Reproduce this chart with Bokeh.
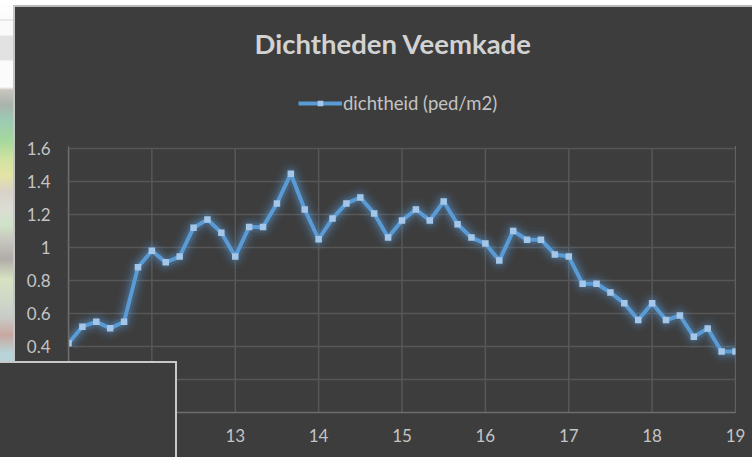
from bokeh.plotting import figure
from bokeh.models import (ColumnDataSource, FixedTicker, Legend, LegendItem, Title, Div, Column)
from bokeh.embed import file_html
from bokeh.resources import INLINE

# Data: hour of day (one reading per ten minutes, 11:00 to 19:00)
minutes = list(range(0, 490, 10))
dichtheid = [0.42, 0.52, 0.55, 0.51, 0.55, 0.88,
             0.98, 0.91, 0.945, 1.12, 1.17, 1.09,
             0.945, 1.125, 1.125, 1.267, 1.447, 1.23,
             1.05, 1.176, 1.267, 1.303, 1.206, 1.06,
             1.164, 1.23, 1.164, 1.279, 1.141, 1.06,
             1.024, 0.921, 1.10, 1.047, 1.047, 0.958,
             0.945, 0.78, 0.78, 0.727, 0.662, 0.56,
             0.662, 0.56, 0.588, 0.459, 0.509, 0.37, 0.37]
x_ticks = [11, 12, 13, 14, 15, 16, 17, 18, 19]
y_ticks = [0, 0.2, 0.4, 0.6, 0.8, 1.0, 1.2, 1.4, 1.6]
y_labels = {0: "", 0.2: "", 0.4: "0.4", 0.6: "0.6", 0.8: "0.8", 1.0: "1", 1.2: "1.2", 1.4: "1.4", 1.6: "1.6"}
x_labels = {11: "", 12: "", 13: "13", 14: "14", 15: "15", 16: "16", 17: "17", 18: "18", 19: "19"}
title_text = "Dichtheden Veemkade"
series_name = "dichtheid (ped/m2)"

DARK = "#3d3d3d"
BLUE = "#5b9bd5"
TEXT = "#c4c4c4"
GRID = "#575757"
FONT = "Lato"

hours = [11 + m / 60 for m in minutes]
src = ColumnDataSource(dict(x=hours, y=dichtheid))

# the frame reaches up past the 1.6 line so that the legend can sit inside it
PLOT_TOP = 64
AXIS_TOP_PX = 148
px_per_unit = (412 - AXIS_TOP_PX) / 1.6
p = figure(width=752, height=457, x_range=(11, 19), y_range=(0, 1.6 + (AXIS_TOP_PX - PLOT_TOP) / px_per_unit),
           output_backend="svg", toolbar_location=None,
           min_border_left=68, min_border_right=17, min_border_top=PLOT_TOP, min_border_bottom=45,
           background_fill_color=DARK, border_fill_color=DARK)
p.outline_line_color = None
p.outline_line_alpha = 0
p.outline_line_width = 0
p.styles = {"position": "absolute", "left": "0px", "top": "0px"}

p.title = Title(text=title_text, text_font=FONT, text_font_size="27.5px", text_font_style="bold",
                text_color="#d2d2d2", align="left", offset=186, standoff=9)

for ax, ticks, labels in ((p.xaxis[0], x_ticks, x_labels), (p.yaxis[0], y_ticks, y_labels)):
    ax.ticker = FixedTicker(ticks=ticks)
    ax.major_label_overrides = labels
    ax.major_label_text_font = FONT
    ax.major_label_text_font_size = "17px"
    ax.major_label_text_color = TEXT
    ax.major_tick_line_color = None
    ax.major_tick_out = 0
    ax.major_tick_in = 0
    ax.minor_tick_line_color = None
    ax.axis_line_color = "#6e6e6e"
    ax.axis_line_width = 1.5
p.yaxis.bounds = (0, 1.6)
p.xaxis.major_label_standoff = 16
p.yaxis.major_label_standoff = 18
p.ygrid.ticker = FixedTicker(ticks=y_ticks)
p.ygrid.grid_line_color = GRID
p.ygrid.grid_line_width = 1.5
p.xgrid.visible = False
# vertical grid lines stop at the top of the value axis
p.segment(x0=x_ticks, y0=[y_ticks[0]] * len(x_ticks), x1=x_ticks, y1=[y_ticks[-1]] * len(x_ticks),
          line_color=GRID, line_width=1.5)

# soft glow under the series
for w, a in ((24, 0.05), (18, 0.08), (13, 0.12), (9, 0.18)):
    p.line("x", "y", source=src, line_color=BLUE, line_width=w, line_alpha=a, line_join="round")
line = p.line("x", "y", source=src, line_color=BLUE, line_width=4, line_join="round")
marks = p.scatter("x", "y", source=src, marker="square", size=6.5, fill_color="#a4c6e8", line_color=None)

legend = Legend(items=[LegendItem(label=series_name, renderers=[line, marks])],
                location=(230, 298), orientation="horizontal",
                background_fill_alpha=0, border_line_color=None,
                glyph_width=44, glyph_height=14, label_standoff=1,
                padding=0, margin=0,
                label_text_font=FONT, label_text_font_size="18.5px", label_text_color=TEXT)
p.add_layout(legend, "center")

# what lies around the chart on the original slide: page strip at the left, covering panel at bottom left
strip_stops = [(0, "#ffffff"), (19, "#fbfbfb"), (20, "#d6d6d6"), (21, "#fafafa"), (35, "#fafafa"), (36, "#e2e2e2"),
               (60, "#e2e2e2"), (61, "#fbfbfb"), (87, "#fbfbfb"), (90, "#c8c4bd"), (105, "#a9b3ad"),
               (120, "#9ccbb4"), (140, "#a4d89c"), (158, "#cfe2a0"), (175, "#e4e4a6"),
               (192, "#d8d2ca"), (207, "#dcdcd4"), (225, "#cfe2c8"), (242, "#c6c4be"),
               (259, "#b0aca8"), (279, "#d6e2c0"), (300, "#cfd8c8"), (317, "#c8ccc8"),
               (335, "#c8a8a0"), (353, "#b8d4d8"), (362, "#b8d4d8")]
gradient = "linear-gradient(to bottom, " + ", ".join(f"{c} {y}px" for y, c in strip_stops) + ")"

def patch(left, top, width, height, css):
    return Div(text="", width=width, height=height, margin=0,
               styles={"position": "absolute", "left": f"{left}px", "top": f"{top}px", **css})

top_band = patch(0, 0, 752, 5, {"background": "#ffffff"})
top_rule = patch(13, 5, 739, 2, {"background": "#b8b8b8"})
strip = patch(0, 0, 13, 362, {"background": gradient})
strip_rule = patch(13, 5, 2, 357, {"background": "#c6c6c6"})
panel = patch(0, 361, 177, 96, {"background": DARK, "border-top": "2px solid #c8c8c8",
                                "border-right": "2px solid #c8c8c8", "box-sizing": "border-box"})
# keep the empty part of the frame above the 1.6 line free of any edge
frame_top = patch(60, 62, 682, 4, {"background": DARK})
frame_left = patch(66, 62, 4, 84, {"background": DARK})
frame_right = patch(733, 62, 4, 84, {"background": DARK})

root = Column(children=[p, top_band, top_rule, strip, strip_rule, panel, frame_top, frame_left, frame_right],
              spacing=0, margin=0, width=752, height=457,
              styles={"position": "absolute", "left": "0px", "top": "0px"})

open("out.html", "w").write(file_html(root, INLINE))
